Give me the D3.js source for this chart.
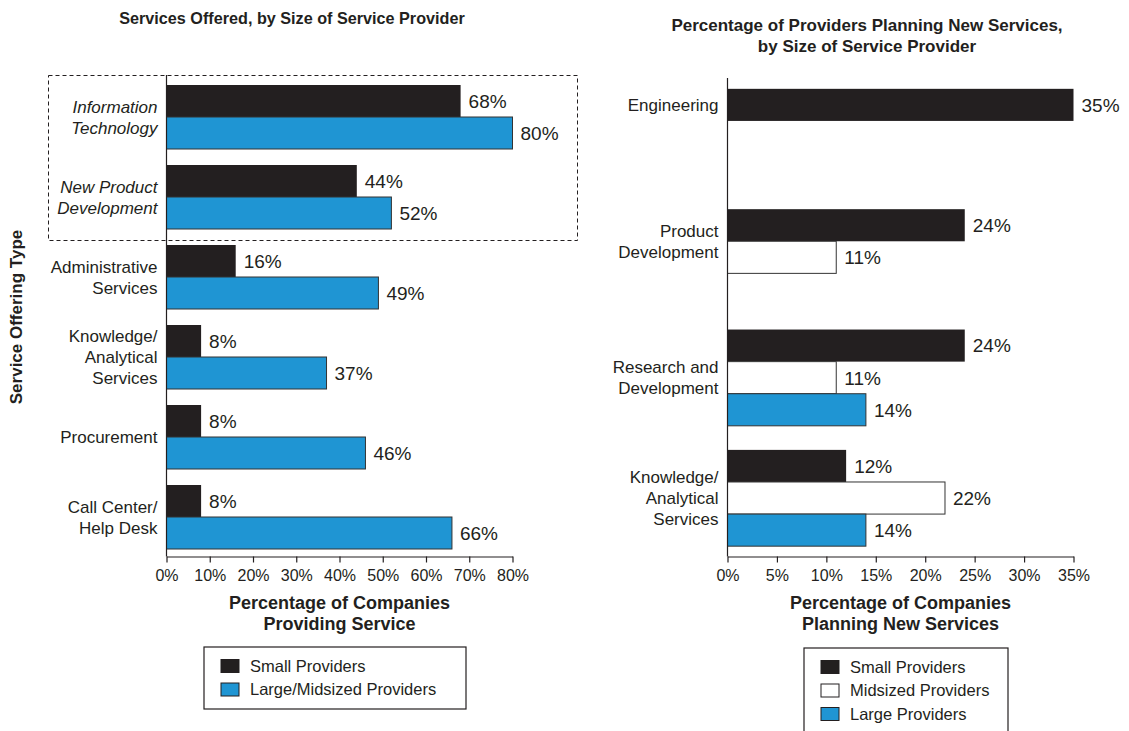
<!DOCTYPE html>
<html>
<head>
<meta charset="utf-8">
<script src="https://cdn.jsdelivr.net/npm/d3@7"></script>
<style>
  html, body { margin: 0; padding: 0; background: #fff; }
  svg text { font-family: "Liberation Sans", Arial, Helvetica, sans-serif; fill: #231f20; }
</style>
</head>
<body>
<svg id="chart" width="1129" height="731"></svg>
<script>
// ---------- DATA ----------
const leftCategories = ["Information\nTechnology", "New Product\nDevelopment", "Administrative\nServices", "Knowledge/\nAnalytical\nServices", "Procurement", "Call Center/\nHelp Desk"];
const leftItalic = [true, true, false, false, false, false];
const leftSmall = [68, 44, 16, 8, 8, 8];
const leftLarge = [80, 52, 49, 37, 46, 66];
const leftTicks = [0, 10, 20, 30, 40, 50, 60, 70, 80];
const leftSeriesNames = ["Small Providers", "Large/Midsized Providers"];

const rightCategories = ["Engineering", "Product\nDevelopment", "Research and\nDevelopment", "Knowledge/\nAnalytical\nServices"];
const rightSmall = [35, 24, 24, 12];
const rightMid = [null, 11, 11, 22];
const rightLarge = [null, null, 14, 14];
const rightTicks = [0, 5, 10, 15, 20, 25, 30, 35];
const rightSeriesNames = ["Small Providers", "Midsized Providers", "Large Providers"];

// ---------- STYLE ----------
const INK = "#231f20";
const BLUE = "#1f95d3";
const svg = d3.select("#chart");

function drawPanel(opt) {
  const g = svg.append("g");
  const x = d3.scaleLinear().domain(opt.domain).range(opt.xRange);
  const y = d3.scaleBand().domain(d3.range(opt.categories.length)).range(opt.yRange)
    .paddingInner(opt.padInner).paddingOuter(opt.padOuter);
  const sub = d3.scaleBand().domain(d3.range(opt.series.length)).range([0, y.bandwidth()]);

  // bars
  opt.series.forEach((s, si) => {
    const data = s.values.map((v, i) => ({ v, i })).filter(d => d.v != null);
    g.selectAll(null).data(data).enter().append("rect")
      .attr("x", x(0))
      .attr("y", d => y(d.i) + sub(si))
      .attr("width", d => x(d.v) - x(0))
      .attr("height", sub.bandwidth())
      .attr("fill", s.fill)
      .attr("stroke", s.stroke)
      .attr("stroke-width", s.stroke === "none" ? 0 : 1);
    g.selectAll(null).data(data).enter().append("text")
      .attr("x", d => x(d.v) + 8)
      .attr("y", d => y(d.i) + sub(si) + sub.bandwidth() / 2)
      .attr("dy", "0.36em")
      .attr("font-size", 19)
      .text(d => d.v + "%");
  });

  // category labels (centered on the present bars)
  opt.categories.forEach((c, i) => {
    const present = opt.series.map((s, si) => s.values[i] != null ? si : null).filter(v => v != null);
    const top = y(i) + sub(d3.min(present));
    const bot = y(i) + sub(d3.max(present)) + sub.bandwidth();
    const cy = (top + bot) / 2;
    const lines = c.split("\n");
    const lh = 21;
    const t = g.append("text")
      .attr("text-anchor", "end")
      .attr("font-size", 17)
      .attr("font-style", opt.italic && opt.italic[i] ? "italic" : "normal");
    lines.forEach((l, li) => {
      t.append("tspan").attr("x", opt.xRange[0] - 9)
        .attr("y", cy + (li - (lines.length - 1) / 2) * lh)
        .attr("dy", "0.36em").text(l);
    });
  });

  // vertical axis line
  g.append("line").attr("x1", x(0)).attr("x2", x(0))
    .attr("y1", opt.axisTop).attr("y2", opt.axisY)
    .attr("stroke", INK).attr("stroke-width", 1.2);

  // x axis
  const ax = d3.axisBottom(x).tickValues(opt.ticks).tickSize(6).tickSizeOuter(0)
    .tickFormat(d => d + "%");
  const axg = g.append("g").attr("transform", `translate(0,${opt.axisY})`).call(ax);
  axg.select(".domain").attr("stroke", INK).attr("stroke-width", 1.2);
  axg.selectAll(".tick line").attr("stroke", INK).attr("stroke-width", 1.2);
  axg.selectAll(".tick text").attr("font-size", 16).attr("fill", INK)
    .attr("font-family", "Liberation Sans, Arial, sans-serif").attr("dy", "0.95em");

  // x axis title
  const cx = (opt.xRange[0] + opt.xRange[1]) / 2;
  opt.xTitle.forEach((l, li) => {
    g.append("text").attr("x", cx).attr("y", 603 + li * 21).attr("dy", "0.36em")
      .attr("text-anchor", "middle").attr("font-weight", "bold").attr("font-size", 18).text(l);
  });

  // chart title
  opt.title.forEach((l, li) => {
    g.append("text").attr("x", opt.titleX).attr("y", opt.titleY + li * 21).attr("dy", "0.36em")
      .attr("text-anchor", "middle").attr("font-weight", "bold").attr("font-size", opt.titleSize).text(l);
  });

  // legend
  const L = opt.legend;
  g.append("rect").attr("x", L.x).attr("y", L.y).attr("width", L.w).attr("height", L.h)
    .attr("fill", "#fff").attr("stroke", INK).attr("stroke-width", 1.2);
  opt.series.forEach((s, si) => {
    const ey = L.y + 19 + si * 23.5;
    g.append("rect").attr("x", L.x + 17).attr("y", ey - 6.5).attr("width", 18).attr("height", 13)
      .attr("fill", s.fill).attr("stroke", INK).attr("stroke-width", 1);
    g.append("text").attr("x", L.x + 46).attr("y", ey).attr("dy", "0.36em")
      .attr("font-size", 16.5).text(s.name);
  });
  return { x, y };
}

// ---------- LEFT PANEL ----------
// dashed highlight box
svg.append("rect").attr("x", 48.5).attr("y", 75.5).attr("width", 529).attr("height", 165)
  .attr("fill", "none").attr("stroke", INK).attr("stroke-width", 1).attr("stroke-dasharray", "4,3");

drawPanel({
  categories: leftCategories, italic: leftItalic,
  series: [
    { name: leftSeriesNames[0], values: leftSmall, fill: INK, stroke: "none" },
    { name: leftSeriesNames[1], values: leftLarge, fill: BLUE, stroke: "#333" }
  ],
  domain: [0, 80], xRange: [166.5, 512.5], yRange: [77, 557], padInner: 0.2, padOuter: 0.1,
  axisTop: 75, axisY: 556.5, ticks: leftTicks,
  xTitle: ["Percentage of Companies", "Providing Service"],
  title: ["Services Offered, by Size of Service Provider"], titleX: 292, titleY: 18, titleSize: 16.2,
  legend: { x: 204, y: 647, w: 262, h: 62 }
});

// y axis title
svg.append("text").attr("transform", "translate(16,317) rotate(-90)").attr("dy", "0.36em")
  .attr("text-anchor", "middle").attr("font-weight", "bold").attr("font-size", 17)
  .text("Service Offering Type");

// ---------- RIGHT PANEL ----------
drawPanel({
  categories: rightCategories,
  series: [
    { name: rightSeriesNames[0], values: rightSmall, fill: INK, stroke: "none" },
    { name: rightSeriesNames[1], values: rightMid, fill: "#fff", stroke: "#333" },
    { name: rightSeriesNames[2], values: rightLarge, fill: BLUE, stroke: "#333" }
  ],
  domain: [0, 35], xRange: [727.5, 1073.5], yRange: [78, 557], padInner: 0.2, padOuter: 0.09,
  axisTop: 78, axisY: 556.5, ticks: rightTicks,
  xTitle: ["Percentage of Companies", "Planning New Services"],
  title: ["Percentage of Providers Planning New Services,", "by Size of Service Provider"], titleX: 867, titleY: 25, titleSize: 17,
  legend: { x: 804, y: 648, w: 204, h: 100 }
});
</script>
</body>
</html>
